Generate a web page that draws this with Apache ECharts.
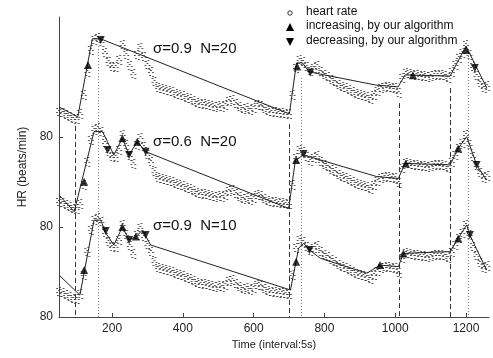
<!DOCTYPE html>
<html>
<head>
<meta charset="utf-8">
<script src="https://cdn.jsdelivr.net/npm/echarts@6/dist/echarts.min.js"></script>
<style>
  html, body { margin: 0; padding: 0; background: #fff; }
  #main { width: 493px; height: 358px; }
</style>
</head>
<body>
<div id="main"></div>
<script>
// heart rate samples (time index, beats/min)
const sampleTime = [
  50, 60, 70, 80, 90, 100, 110, 120, 130, 140,
  150, 160, 170, 180, 190, 200, 210, 220, 230, 240,
  250, 260, 270, 280, 290, 300, 310, 320, 330, 340,
  350, 360, 370, 380, 390, 400, 410, 420, 430, 440,
  450, 460, 470, 480, 490, 500, 510, 520, 530, 540,
  550, 560, 570, 580, 590, 600, 610, 620, 630, 640,
  650, 660, 670, 680, 690, 700, 710, 720, 730, 740,
  750, 760, 770, 780, 790, 800, 810, 820, 830, 840,
  850, 860, 870, 880, 890, 900, 910, 920, 930, 940,
  950, 960, 970, 980, 990, 1000, 1010, 1020, 1030, 1040,
  1050, 1060, 1070, 1080, 1090, 1100, 1110, 1120, 1130, 1140,
  1150, 1160, 1170, 1180, 1190, 1200, 1210, 1220, 1230, 1240,
  1250, 1260
];
const heartRate = [
  88.3, 88.0, 87.3, 86.7, 86.0, 86.0, 87.7, 94.0, 101.7, 109.0,
  112.3, 113.0, 111.7, 108.0, 105.0, 103.3, 103.3, 105.7, 110.7, 107.3,
  103.7, 101.0, 107.3, 109.7, 106.7, 104.0, 101.7, 98.3, 96.3, 96.0,
  95.7, 95.3, 95.0, 94.3, 94.0, 93.7, 93.0, 92.7, 92.0, 91.3,
  91.0, 91.0, 90.7, 90.3, 90.0, 90.3, 90.0, 90.7, 92.0, 92.3,
  91.0, 90.0, 89.3, 89.7, 89.0, 89.7, 90.7, 90.3, 89.3, 88.7,
  88.3, 88.3, 88.0, 88.0, 87.7, 87.7, 94.0, 103.0, 105.7, 105.0,
  103.3, 102.0, 103.0, 103.7, 101.7, 100.7, 100.0, 99.0, 98.3, 97.3,
  96.7, 96.3, 95.7, 95.0, 94.3, 94.0, 93.7, 93.3, 92.7, 94.0,
  95.3, 96.3, 96.7, 96.7, 96.3, 96.3, 94.7, 99.7, 101.3, 101.0,
  100.7, 100.7, 100.3, 100.3, 100.0, 100.3, 100.7, 100.7, 100.7, 100.3,
  99.7, 101.7, 104.0, 106.3, 108.0, 110.7, 107.3, 103.3, 100.3, 98.0,
  96.3, 97.0
];

// piecewise linear fits
const fitTimeTop = [50, 103, 144, 168, 701, 721, 738, 757, 946, 1008, 1028, 1155, 1200, 1259];
const fitHrTop = [90.0, 86.7, 112.7, 112.7, 87.7, 104.7, 104.7, 101.7, 97.3, 96.7, 100.7, 100.3, 110.3, 96.3];
const fitTimeMid = [50, 93, 149, 173, 205, 229, 248, 271, 295, 699, 718, 741, 948, 1009, 1028, 1155, 1178, 1202, 1230, 1258];
const fitHrMid = [90.7, 85.1, 111.8, 111.8, 104.0, 109.6, 104.0, 108.4, 105.1, 86.2, 102.3, 104.0, 96.8, 96.2, 101.2, 100.7, 106.2, 110.1, 100.7, 95.7];
const fitTimeBot = [50, 109, 149, 168, 182, 205, 229, 248, 267, 286, 309, 704, 727, 741, 758, 788, 920, 957, 1009, 1023, 1155, 1178, 1202, 1211, 1258];
const fitHrBot = [94.0, 87.3, 112.3, 112.3, 108.0, 104.0, 110.0, 105.7, 106.7, 109.0, 104.0, 89.0, 102.9, 104.6, 102.3, 99.6, 94.6, 97.3, 96.8, 101.2, 101.8, 106.2, 110.7, 107.3, 95.7];

// detected increasing / decreasing points
const upTimeTop = [132, 723, 1050, 1200];
const upHrTop = [104.0, 103.5, 100.6, 109.0];
const downTimeTop = [168, 760, 1225];
const downHrTop = [112.3, 101.5, 103.0];
const upTimeMid = [121, 229, 271, 720, 1030, 1178];
const upHrMid = [95.1, 109.6, 108.4, 102.3, 101.2, 106.2];
const downTimeMid = [187, 248, 295, 741, 1230];
const downHrMid = [105.7, 104.0, 105.1, 104.3, 100.7];
const upTimeBot = [121, 229, 267, 720, 957, 1023, 1178];
const upHrBot = [95.7, 110.0, 106.8, 98.4, 97.3, 101.2, 106.2];
const downTimeBot = [182, 248, 295, 758, 1211];
const downHrBot = [108.7, 105.7, 107.3, 102.3, 107.3];

// vertical reference lines (start at the top trace)
const markTime = [95, 160, 700, 735, 1010, 1155, 1205];
const markType = ['dashed', 'dotted', 'dashed', 'dotted', 'dashed', 'dashed', 'dotted'];
const markTopHr = [85.7, 112.3, 86.3, 101.7, 93.3, 98.3, 109.0];

const panelNames = ['\u03c3=0.9  N=20', '\u03c3=0.6  N=20', '\u03c3=0.9  N=10'];
const xTicks = [200, 400, 600, 800, 1000, 1200];
const yTicks = [80, 110, 140];

const FONT = 'Liberation Sans, Arial, sans-serif';
const offsets = [60, 30, 0];
const panels = [
  { fitT: fitTimeTop, fitHr: fitHrTop, upT: upTimeTop, upHr: upHrTop, downT: downTimeTop, downHr: downHrTop },
  { fitT: fitTimeMid, fitHr: fitHrMid, upT: upTimeMid, upHr: upHrMid, downT: downTimeMid, downHr: downHrMid },
  { fitT: fitTimeBot, fitHr: fitHrBot, upT: upTimeBot, upHr: upHrBot, downT: downTimeBot, downHr: downHrBot }
];

const pairs = (ts, vs, off) => ts.map((t, i) => [t, vs[i] + off]);
// a little cluster of specks so each sample reads like the dense dot band
const dotSymbol = 'path://M0,1h2v1h-2zM3,0h2v1h-2zM2,3h2v1h-2zM0,5h2v1h-2zM4,5h2v1h-2zM1,8h2v1h-2zM4,9h2v1h-2z';

const series = [];
panels.forEach((p, k) => {
  const off = offsets[k];
  series.push({
    name: 'heart rate',
    type: 'scatter',
    data: pairs(sampleTime, heartRate, off),
    symbol: dotSymbol,
    symbolSize: [6, 10],
    itemStyle: { color: '#3a3a3a' },
    z: 1
  });
  series.push({
    type: 'line',
    data: pairs(p.fitT, p.fitHr, off),
    showSymbol: false,
    symbol: 'none',
    lineStyle: { color: '#222', width: 1 },
    z: 3
  });
  series.push({
    name: 'increasing, by our algorithm',
    type: 'scatter',
    data: pairs(p.upT, p.upHr, off),
    symbol: 'triangle',
    symbolSize: 8,
    itemStyle: { color: '#000' },
    z: 4
  });
  series.push({
    name: 'decreasing, by our algorithm',
    type: 'scatter',
    data: pairs(p.downT, p.downHr, off),
    symbol: 'triangle',
    symbolRotate: 180,
    symbolSize: 8,
    itemStyle: { color: '#000' },
    z: 4
  });
});

// vertical markers
series.push({
  type: 'line',
  data: [],
  markLine: {
    silent: true,
    symbol: ['none', 'none'],
    label: { show: false },
    data: markTime.map((t, i) => [
      {
        coord: [t, markTopHr[i] + offsets[0] - 2],
        lineStyle: markType[i] === 'dashed'
          ? { type: [5, 3], color: '#333', width: 1 }
          : { type: [1, 2], color: '#777', width: 1 }
      },
      { coord: [t, 80] }
    ])
  }
});

const chart = echarts.init(document.getElementById('main'));
chart.setOption({
  animation: false,
  backgroundColor: '#fff',
  textStyle: { fontFamily: FONT },
  grid: { left: 59, right: 4, top: 17, bottom: 41 },
  xAxis: {
    type: 'value',
    min: 50,
    max: 1265,
    name: 'Time (interval:5s)',
    nameLocation: 'middle',
    nameGap: 22,
    nameTextStyle: { fontSize: 11, color: '#222', fontFamily: FONT },
    axisLine: { lineStyle: { color: '#444' } },
    axisTick: { inside: true, length: 4, customValues: xTicks, lineStyle: { color: '#444' } },
    axisLabel: { customValues: xTicks, formatter: v => String(v), fontSize: 12, color: '#222', margin: 6, fontFamily: FONT },
    splitLine: { show: false }
  },
  yAxis: {
    type: 'value',
    min: 80,
    max: 180,
    name: 'HR (beats/min)',
    nameLocation: 'middle',
    nameGap: 30,
    nameTextStyle: { fontSize: 12, color: '#222', fontFamily: FONT },
    axisLine: { show: true, lineStyle: { color: '#444' } },
    axisTick: { show: true, inside: true, length: 4, customValues: yTicks, lineStyle: { color: '#444' } },
    axisLabel: { customValues: yTicks, formatter: () => '80', fontSize: 12, color: '#222', margin: 6, fontFamily: FONT },
    splitLine: { show: false }
  },
  graphic: [
    { type: 'text', left: 153, top: 41, style: { text: panelNames[0], font: '15px ' + FONT, fill: '#111' } },
    { type: 'text', left: 153, top: 134, style: { text: panelNames[1], font: '15px ' + FONT, fill: '#111' } },
    { type: 'text', left: 153, top: 218, style: { text: panelNames[2], font: '15px ' + FONT, fill: '#111' } },
    // legend
    { type: 'circle', shape: { cx: 290, cy: 13, r: 2.2 }, style: { fill: 'none', stroke: '#333', lineWidth: 1 } },
    { type: 'polygon', shape: { points: [[286, 31], [294, 31], [290, 23]] }, style: { fill: '#000' } },
    { type: 'polygon', shape: { points: [[286, 38], [294, 38], [290, 46]] }, style: { fill: '#000' } },
    { type: 'text', left: 306, top: 6, style: { text: 'heart rate', font: '12px ' + FONT, fill: '#111' } },
    { type: 'text', left: 306, top: 20, style: { text: 'increasing, by our algorithm', font: '12px ' + FONT, fill: '#111' } },
    { type: 'text', left: 306, top: 35, style: { text: 'decreasing, by our algorithm', font: '12px ' + FONT, fill: '#111' } }
  ],
  series: series
});
</script>
</body>
</html>
